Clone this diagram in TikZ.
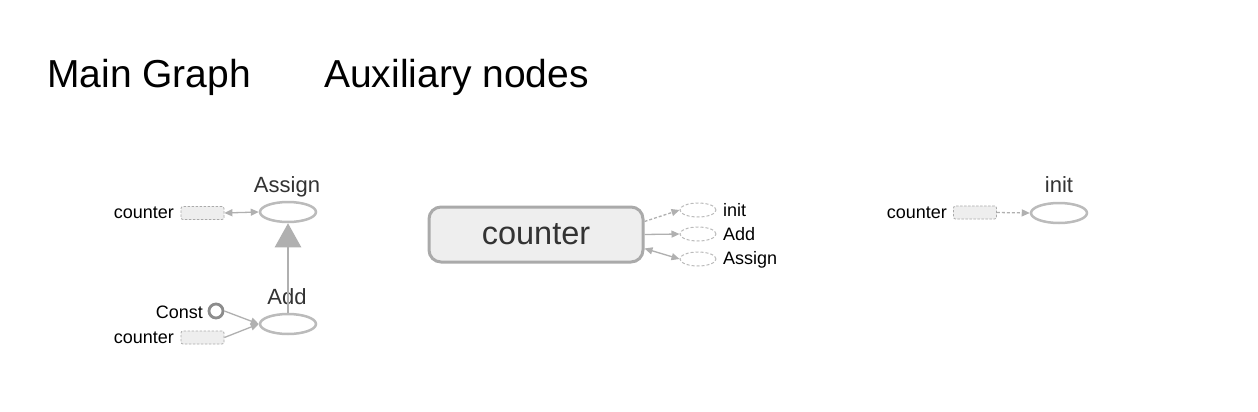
\documentclass[tikz,border=0pt]{standalone}
\usepackage{fontspec}
\setmainfont{Liberation Sans}
\usetikzlibrary{arrows.meta,shapes.geometric,calc}
\definecolor{edge}{HTML}{B0B0B0}
\definecolor{nodeline}{HTML}{BBBBBB}
\definecolor{boxfill}{HTML}{EEEEEE}
\definecolor{boxline}{HTML}{AAAAAA}
\definecolor{labtext}{HTML}{333333}
\tikzset{
  opnode/.style={ellipse,draw=nodeline,line width=2.5pt,minimum width=56pt,minimum height=20pt,inner sep=0pt},
  oplabel/.style={font=\fontsize{22}{24}\selectfont,text=labtext,anchor=base,inner sep=0pt},
  refbox/.style={rectangle,rounded corners=2pt,draw=boxline,dashed,fill=boxfill,minimum width=43pt,minimum height=13pt,inner sep=0pt,line width=0.8pt,dash pattern=on 2.5pt off 1.5pt},
  smalllab/.style={font=\fontsize{18}{20}\selectfont,text=black,inner sep=0pt},
  constnode/.style={circle,draw=gray!90,line width=2.8pt,minimum size=14pt,inner sep=0pt},
  stubnode/.style={ellipse,draw=nodeline,dashed,line width=1pt,minimum width=36pt,minimum height=14pt,inner sep=0pt,dash pattern=on 3pt off 2pt},
  smalledge/.style={draw=edge,line width=1.3pt,-{Triangle[length=8pt,width=7pt]}},
  bothedge/.style={draw=edge,line width=1.3pt,{Triangle[length=8pt,width=7pt]}-{Triangle[length=8pt,width=7pt]}},
  bigedge/.style={draw=edge,line width=2.5pt,-{Triangle[length=24pt,width=26pt]}},
  title/.style={font=\fontsize{39}{42}\selectfont,anchor=west,inner sep=0pt}
}
\begin{document}
\begin{tikzpicture}[x=1pt,y=-1pt]
\path[use as bounding box,fill=white] (0,0) rectangle (1258,412);
% titles
\node[title] (t1) at (47,77) {Main Graph};
\node[title] (t2) at (324,77) {Auxiliary nodes};
% main graph
\node[opnode] (assign) at (288,212) {};
\node[oplabel] (assignlab) at (287,192) {Assign};
\node[refbox] (cnt1) at (202.5,213) {};
\node[smalllab,anchor=east] (cnt1lab) at (174,213) {counter};
\node[opnode] (add) at (288,324) {};
\node[oplabel] (addlab) at (287,304) {Add};
\node[constnode] (const) at (216,311) {};
\node[smalllab,anchor=east] (constlab) at (203,312) {Const};
\node[refbox] (cnt2) at (202.5,337.5) {};
\node[smalllab,anchor=east] (cnt2lab) at (174,338) {counter};
\draw[bothedge] (cnt1.east) -- (assign.west);
\draw[bigedge] (add.north) -- (assign.south);
\draw[smalledge] (const.east) -- (add.west);
\draw[smalledge] (cnt2.east) -- (add.west);
% auxiliary: counter
\node[rectangle,rounded corners=12pt,draw=boxline,line width=3pt,fill=boxfill,minimum width=214pt,minimum height=55pt,font=\fontsize{32.5}{34}\selectfont,text=labtext] (cnt) at (536,234.5) {counter};
\node[stubnode] (sinit) at (698,210) {};
\node[stubnode] (sadd) at (698,234) {};
\node[stubnode] (sassign) at (698,259) {};
\node[smalllab,anchor=west] (linit) at (723,210) {init};
\node[smalllab,anchor=west] (ladd) at (723,234) {Add};
\node[smalllab,anchor=west] (lassign) at (723,260) {Assign};
\coordinate (c1) at ([yshift=13pt]cnt.east);
\coordinate (c3) at ([yshift=-14pt]cnt.east);
\draw[smalledge,dashed,dash pattern=on 3pt off 2pt] (c1) -- (sinit.west);
\draw[smalledge] (cnt.east) -- (sadd.west);
\draw[bothedge] (c3) -- (sassign.west);
% auxiliary: init
\node[opnode] (init) at (1059,213) {};
\node[oplabel] (initlab) at (1059,192) {init};
\node[refbox] (cnt3) at (975,212.5) {};
\node[smalllab,anchor=east] (cnt3lab) at (947,213) {counter};
\draw[smalledge,dashed,dash pattern=on 3pt off 2pt] (cnt3.east) -- (init.west);
\end{tikzpicture}
\end{document}
